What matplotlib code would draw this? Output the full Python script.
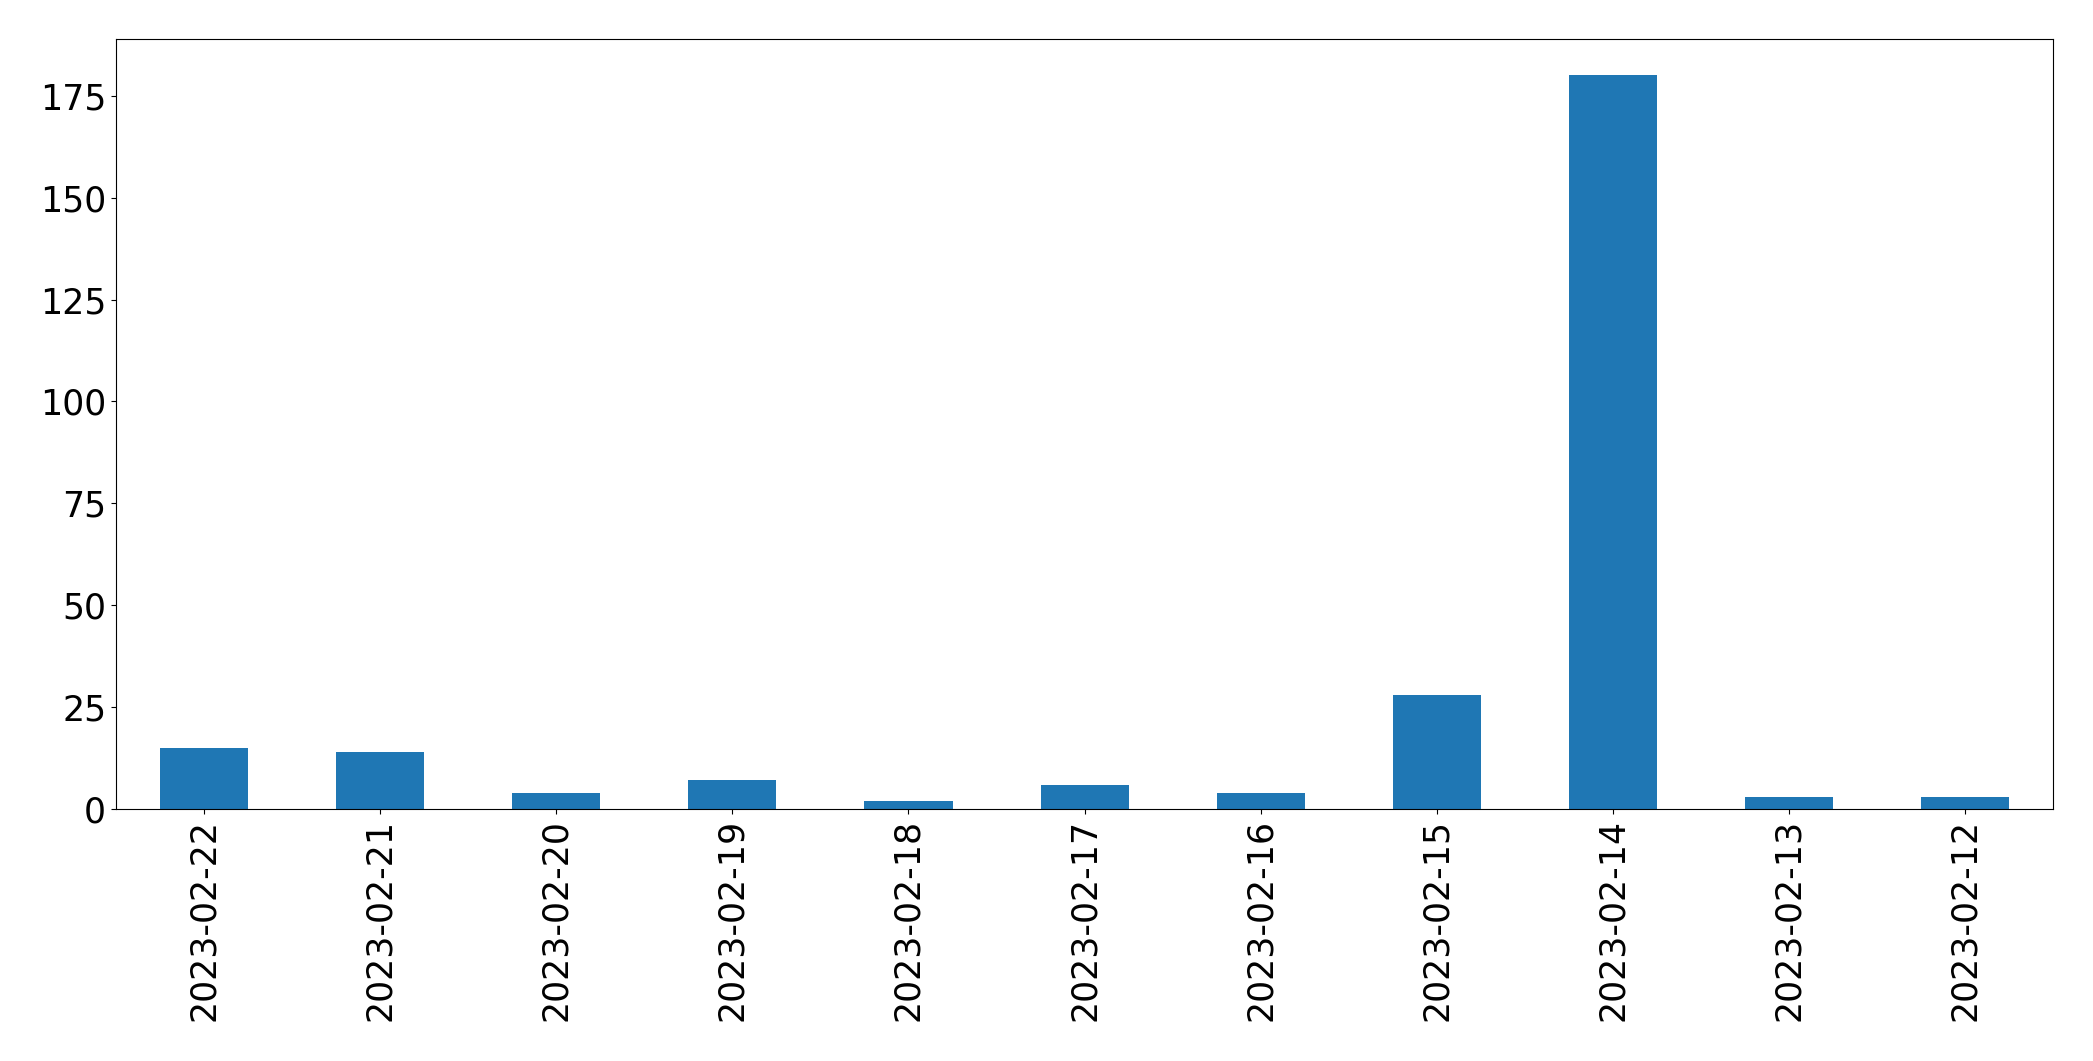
import matplotlib
matplotlib.use("Agg")
import matplotlib.pyplot as plt

# daily counts, newest first (as in the original series)
dates = ['2023-02-22', '2023-02-21', '2023-02-20', '2023-02-19', '2023-02-18',
         '2023-02-17', '2023-02-16', '2023-02-15', '2023-02-14', '2023-02-13',
         '2023-02-12']
counts = [15, 14, 4, 7, 2, 6, 4, 28, 180, 3, 3]

fig = plt.figure(figsize=(20.93, 10.61), dpi=100)
ax = fig.add_axes([0.0554, 0.2375, 0.9256, 0.726])

pos = range(len(dates))
ax.bar(pos, counts, width=0.5, color='#1f77b4')
ax.set_xlim(-0.5, len(dates) - 0.5)
ax.set_ylim(0, max(counts) * 1.05)
ax.set_xticks(list(pos))
ax.set_xticklabels(dates, rotation=90)
ax.tick_params(labelsize=25)

plt.savefig('out.png', dpi=100)
